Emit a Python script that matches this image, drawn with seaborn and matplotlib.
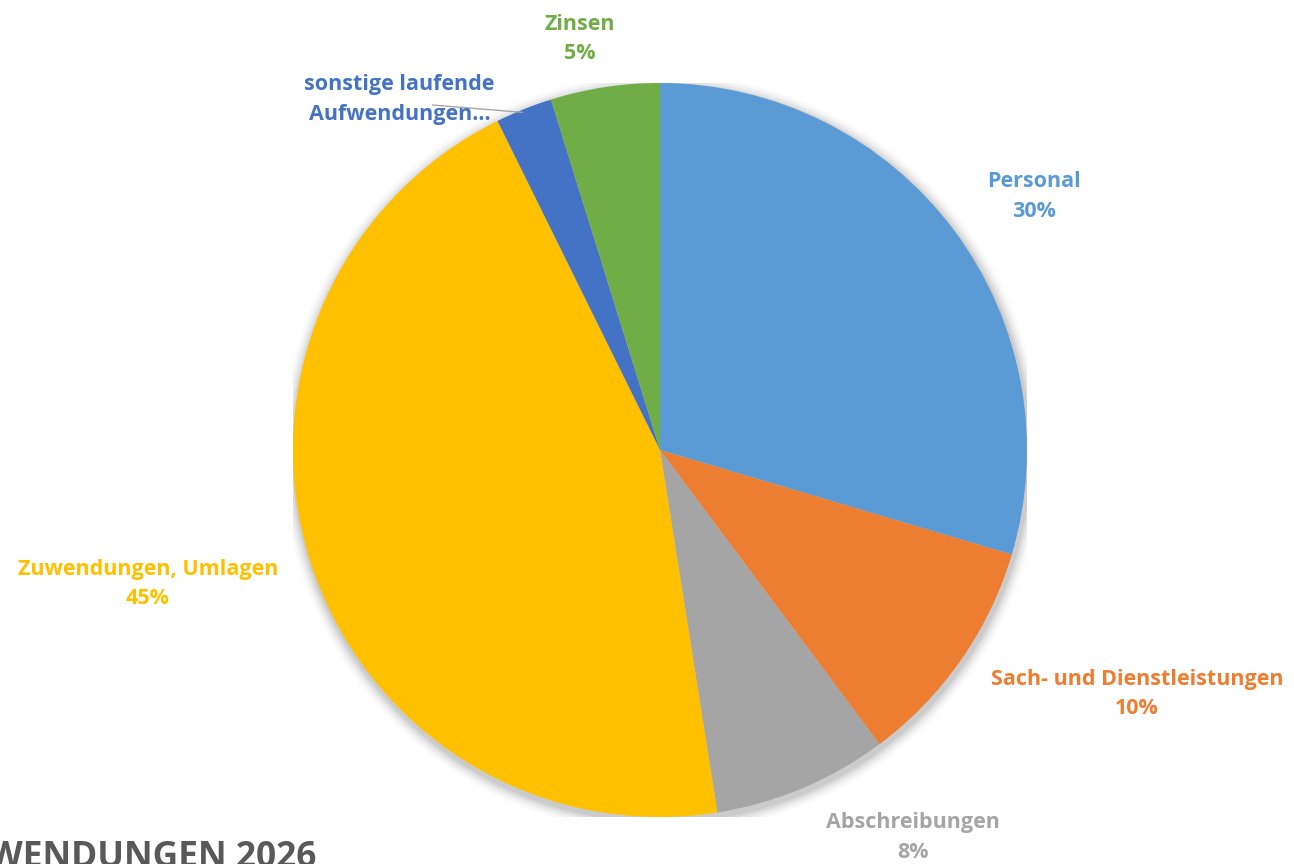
import numpy as np
import matplotlib
matplotlib.use("Agg")
import matplotlib.pyplot as plt
import seaborn as sns

sns.set_theme(style="white")
plt.rcParams['font.family'] = ['Open Sans', 'DejaVu Sans']

# data
categories = ["Personal", "Sach- und Dienstleistungen", "Abschreibungen",
              "Zuwendungen, Umlagen", "sonstige laufende\nAufwendungen…", "Zinsen"]
shares = [29.6, 10.2, 7.7, 45.2, 2.5, 4.8]
show_pct = [True, True, True, True, False, True]
colors = ["#5B9BD5", "#ED7D31", "#A5A5A5", "#FFC000", "#4472C4", "#70AD47"]

# label centres in data units (pie radius = 1)
label_pos = [(1.02, 0.69), (1.30, -0.665), (0.69, -1.055),
             (-1.395, -0.365), (-0.71, 0.955), (-0.22, 1.12)]

W, H = 1294, 864
cx, cy, r = 660, 450, 367
fig = plt.figure(figsize=(W / 100, H / 100), dpi=100)
ax = fig.add_axes([(cx - r) / W, (H - cy - r) / H, 2 * r / W, 2 * r / H])

# soft shadow
for i, a in enumerate(np.linspace(0.06, 0.01, 6)):
    ax.add_patch(plt.Circle((0.004, -0.01), 1 + 0.006 * (i + 1), color="black",
                            alpha=a, lw=0, zorder=0))

wedges, _ = ax.pie(shares, colors=colors, startangle=90, counterclock=False,
                   radius=1, wedgeprops=dict(linewidth=0))
for w in wedges:
    w.set_zorder(2)

for cat, val, pct, col, (lx, ly) in zip(categories, shares, show_pct, colors, label_pos):
    txt = cat + ("\n%d%%" % round(val) if pct else "")
    ax.text(lx, ly, txt, ha="center", va="center", color=col, fontsize=15.5,
            fontweight="bold", linespacing=1.55, zorder=5)

# leader line for the small slice
ax.plot([-0.62, -0.375], [0.94, 0.92], color="#A6A6A6", lw=1, zorder=3)

ax.set_xlim(-1, 1)
ax.set_ylim(-1, 1)
ax.set_aspect("equal")
ax.axis("off")

fig.text(316 / W, -12 / H, "AUFWENDUNGEN 2026", ha="right", va="bottom",
         fontsize=25.5, fontweight="bold", color="#595959")

fig.savefig("out.png", dpi=100)
